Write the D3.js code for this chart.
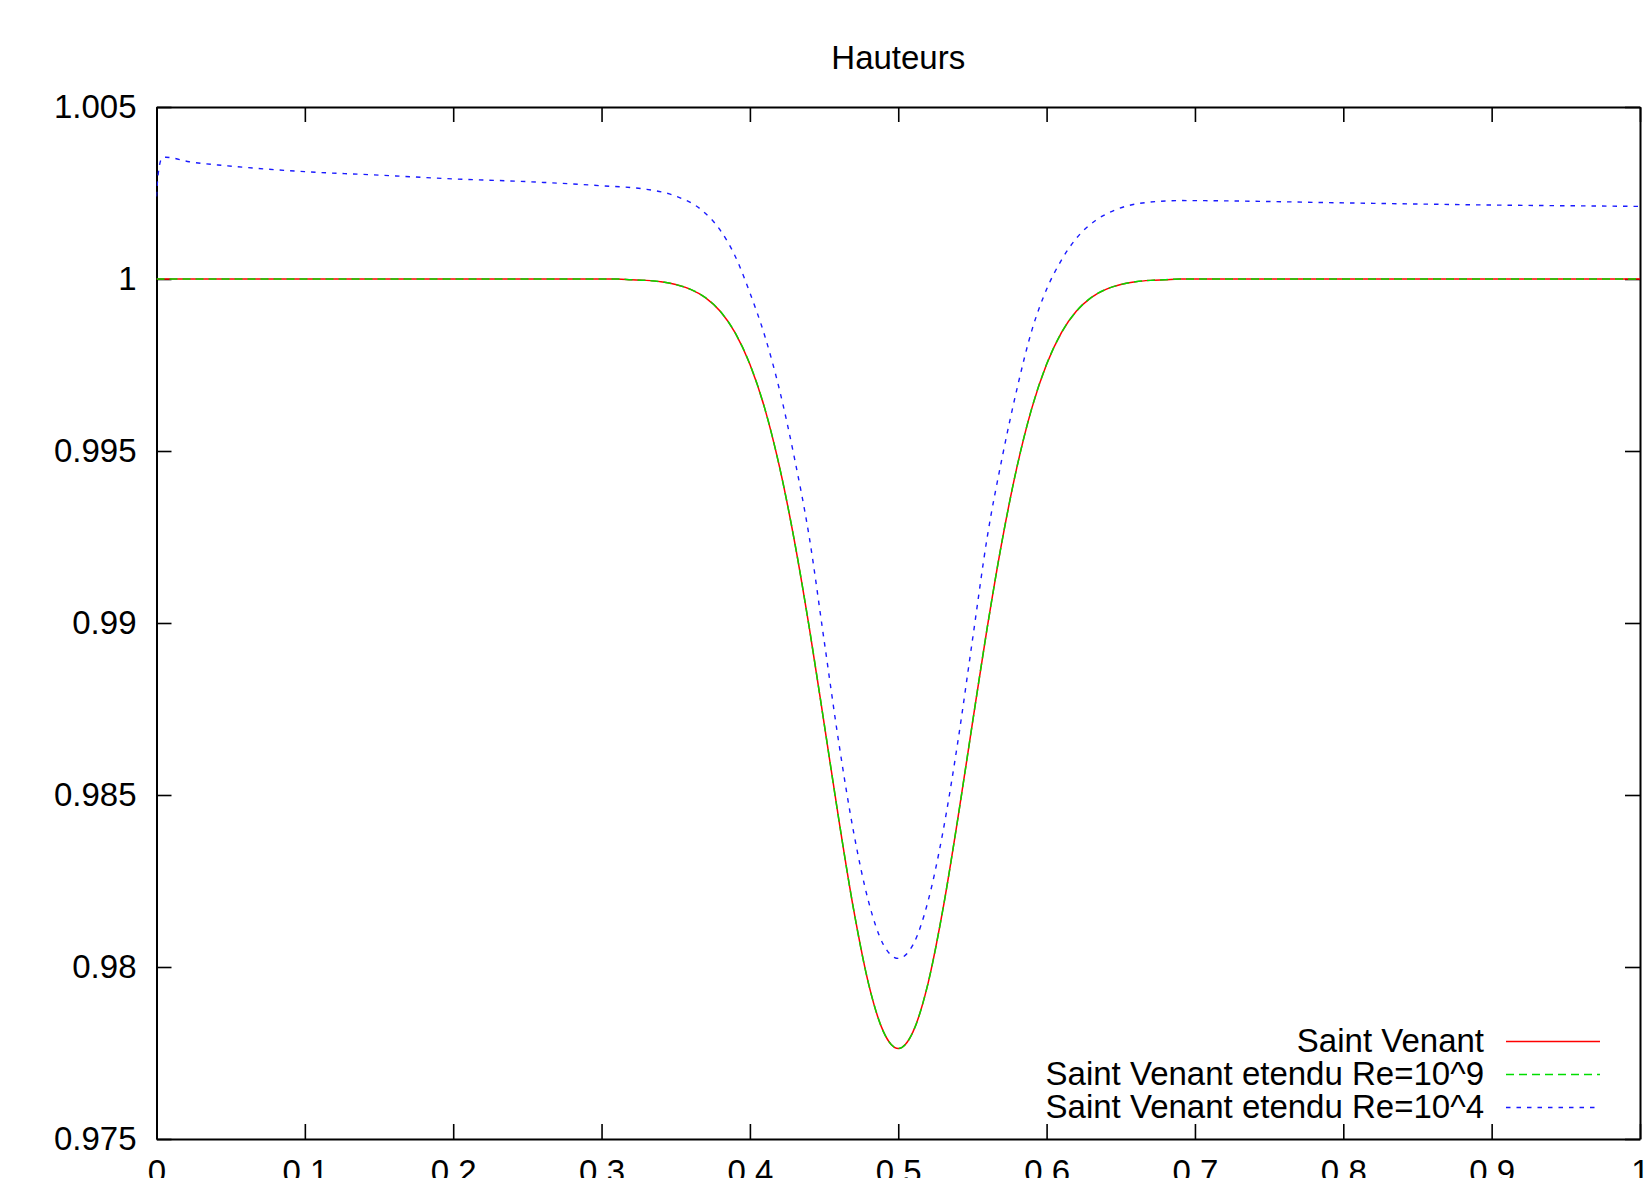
<!DOCTYPE html>
<html>
<head>
<meta charset="utf-8">
<script src="https://cdn.jsdelivr.net/npm/d3@7/dist/d3.min.js"></script>
<style>
  html, body { margin: 0; padding: 0; background: #fff; overflow: hidden; }
  svg { display: block; }
  text { font-family: "Liberation Sans", Arial, Helvetica, sans-serif; fill: #000; }
</style>
</head>
<body>
<svg id="chart" width="1646" height="1178"></svg>
<script>
// ---- data ----
const chartTitle = "Hauteurs";
const xTickValues = [0, 0.1, 0.2, 0.3, 0.4, 0.5, 0.6, 0.7, 0.8, 0.9, 1];
const xTickLabels = ["0", "0.1", "0.2", "0.3", "0.4", "0.5", "0.6", "0.7", "0.8", "0.9", "1"];
const yTickValues = [0.975, 0.98, 0.985, 0.99, 0.995, 1, 1.005];
const yTickLabels = ["0.975", "0.98", "0.985", "0.99", "0.995", "1", "1.005"];
const seriesNames = ["Saint Venant", "Saint Venant etendu Re=10^9", "Saint Venant etendu Re=10^4"];

const svX = [0, 0.1, 0.2, 0.29, 0.30, 0.31, 0.32, 0.33, 0.34, 0.35, 0.36, 0.37, 0.38, 0.39, 0.40, 0.41, 0.42, 0.43, 0.44, 0.45, 0.46, 0.47, 0.48, 0.49, 0.50,
             0.51, 0.52, 0.53, 0.54, 0.55, 0.56, 0.57, 0.58, 0.59, 0.60, 0.61, 0.62, 0.63, 0.64, 0.65, 0.66, 0.67, 0.68, 0.69, 0.70, 0.71, 0.8, 0.9, 1.0];
const svY = [1.0, 1.0, 1.0, 1.0, 1.0, 1.0, 0.99998, 0.99996, 0.99992, 0.99984, 0.99970, 0.99946, 0.99906, 0.99844, 0.99752, 0.99624, 0.99453, 0.99239, 0.98987, 0.98709, 0.98427, 0.98165, 0.97951, 0.97812, 0.97763,
             0.97812, 0.97951, 0.98165, 0.98427, 0.98709, 0.98987, 0.99239, 0.99453, 0.99624, 0.99752, 0.99844, 0.99906, 0.99946, 0.99970, 0.99984, 0.99992, 0.99996, 0.99998, 1.0, 1.0, 1.0, 1.0, 1.0, 1.0];

const sve9X = [0, 0.1, 0.2, 0.29, 0.30, 0.31, 0.32, 0.33, 0.34, 0.35, 0.36, 0.37, 0.38, 0.39, 0.40, 0.41, 0.42, 0.43, 0.44, 0.45, 0.46, 0.47, 0.48, 0.49, 0.50,
               0.51, 0.52, 0.53, 0.54, 0.55, 0.56, 0.57, 0.58, 0.59, 0.60, 0.61, 0.62, 0.63, 0.64, 0.65, 0.66, 0.67, 0.68, 0.69, 0.70, 0.71, 0.8, 0.9, 1.0];
const sve9Y = [1.0, 1.0, 1.0, 1.0, 1.0, 1.0, 0.99998, 0.99996, 0.99992, 0.99984, 0.99970, 0.99946, 0.99906, 0.99844, 0.99752, 0.99624, 0.99453, 0.99239, 0.98987, 0.98709, 0.98427, 0.98165, 0.97951, 0.97812, 0.97763,
               0.97812, 0.97951, 0.98165, 0.98427, 0.98709, 0.98987, 0.99239, 0.99453, 0.99624, 0.99752, 0.99844, 0.99906, 0.99946, 0.99970, 0.99984, 0.99992, 0.99996, 0.99998, 1.0, 1.0, 1.0, 1.0, 1.0, 1.0];

const sve4X = [0, 0.001, 0.0037, 0.0063, 0.022, 0.048, 0.1, 0.15, 0.2, 0.25, 0.3, 0.33, 0.35, 0.367, 0.38, 0.39, 0.40, 0.41, 0.42, 0.43, 0.44, 0.45, 0.46, 0.47, 0.48, 0.49, 0.50,
               0.51, 0.52, 0.53, 0.54, 0.55, 0.56, 0.57, 0.58, 0.59, 0.60, 0.61, 0.62, 0.633, 0.647, 0.663, 0.69, 0.74, 0.79, 0.85, 0.90, 0.95, 1.0];
const sve4Y = [1.0024, 1.0030, 1.00351, 1.00354, 1.00341, 1.00329, 1.00312, 1.00302, 1.00291, 1.00283, 1.00271, 1.00261, 1.00241, 1.00202, 1.00142, 1.00067, 0.99960, 0.99835, 0.99677, 0.99480, 0.99250, 0.98950, 0.98650, 0.98390, 0.98190, 0.98065, 0.98025,
               0.98065, 0.98190, 0.98390, 0.98650, 0.98950, 0.99250, 0.99480, 0.99680, 0.99850, 0.99970, 1.00055, 1.00118, 1.00170, 1.00202, 1.00220, 1.00228, 1.00226, 1.00222, 1.00218, 1.00215, 1.00213, 1.00211];

// ---- layout ----
const L = 156.5, R = 1640, T = 107, B = 1139;
const FONT = 33;

const svg = d3.select("#chart");
const x = d3.scaleLinear().domain([0, 1]).range([L, R]);
const y = d3.scaleLinear().domain([0.975, 1.005]).range([B, T]);

function styleAxis(g) {
  g.attr("font-size", FONT).attr("font-family", '"Liberation Sans", Arial, sans-serif');
  g.select(".domain").attr("stroke", "#000").attr("stroke-width", 2);
  g.selectAll(".tick line").attr("stroke", "#000").attr("stroke-width", 1.6);
  g.selectAll(".tick text").attr("fill", "#000");
}

svg.append("g").attr("transform", `translate(0,${B})`)
  .call(d3.axisBottom(x).tickValues(xTickValues).tickFormat((d, i) => xTickLabels[i])
        .tickSizeInner(-15).tickSizeOuter(0).tickPadding(21))
  .call(styleAxis);
svg.append("g").attr("transform", `translate(0,${T})`)
  .call(d3.axisTop(x).tickValues(xTickValues).tickFormat(() => "")
        .tickSizeInner(-15).tickSizeOuter(0))
  .call(styleAxis);
svg.append("g").attr("transform", `translate(${L},0)`)
  .call(d3.axisLeft(y).tickValues(yTickValues).tickFormat((d, i) => yTickLabels[i])
        .tickSizeInner(-15).tickSizeOuter(0).tickPadding(20))
  .call(styleAxis);
svg.append("g").attr("transform", `translate(${R},0)`)
  .call(d3.axisRight(y).tickValues(yTickValues).tickFormat(() => "")
        .tickSizeInner(-15).tickSizeOuter(0))
  .call(styleAxis);

svg.append("text").attr("x", (L + R) / 2).attr("y", 69)
  .attr("text-anchor", "middle").attr("font-size", FONT).text(chartTitle);

svg.append("defs").append("clipPath").attr("id", "plotclip")
  .append("rect").attr("x", L).attr("y", T).attr("width", R - L).attr("height", B - T);

const series = [
  { name: seriesNames[0], xs: svX, ys: svY, color: "#ff0000", dash: null, width: 1.5 },
  { name: seriesNames[1], xs: sve9X, ys: sve9Y, color: "#00dd00", dash: "8,5", width: 1.5 },
  { name: seriesNames[2], xs: sve4X, ys: sve4Y, color: "#1a1aff", dash: "4.5,6", width: 1.4 }
];

const line = d3.line().x(d => x(d[0])).y(d => y(d[1])).curve(d3.curveMonotoneX);
const plot = svg.append("g").attr("clip-path", "url(#plotclip)");
series.forEach(s => {
  const pts = s.xs.map((v, i) => [v, s.ys[i]]);
  plot.append("path").datum(pts)
    .attr("d", line)
    .attr("fill", "none")
    .attr("stroke", s.color)
    .attr("stroke-width", s.width)
    .attr("stroke-dasharray", s.dash);
});

const legendRows = [1041.5, 1074.5, 1107.5];
series.forEach((s, i) => {
  const cy = legendRows[i];
  svg.append("text").attr("x", 1484).attr("y", cy + 10)
    .attr("text-anchor", "end").attr("font-size", FONT).text(s.name);
  svg.append("line").attr("x1", 1506).attr("x2", 1600).attr("y1", cy).attr("y2", cy)
    .attr("stroke", s.color).attr("stroke-width", s.width)
    .attr("stroke-dasharray", s.dash);
});
</script>
</body>
</html>
